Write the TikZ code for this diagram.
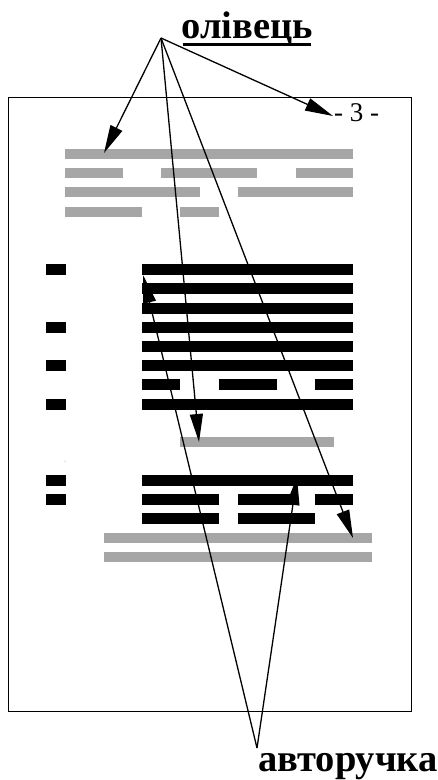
\documentclass[tikz,border=0pt]{standalone}
\usepackage{fontspec}
\setmainfont{Liberation Serif}
\usetikzlibrary{arrows.meta}
\tikzset{
  gbar/.style={fill={rgb,255:red,166;green,166;blue,166}, draw=none},
  bbar/.style={fill=black, draw=none},
  ptr/.style={line width=1.3pt, -{Triangle[length=28pt,width=13pt]}},
  lbl/.style={font=\bfseries\fontsize{38.5}{42}\selectfont, inner sep=0pt},
}
\begin{document}
\begin{tikzpicture}[x=1pt,y=-1pt]
\useasboundingbox (0,0) rectangle (437,780);
% page
\draw[line width=0.9pt] (8,97) rectangle (411,711);
% gray text lines
\foreach \a/\b/\y in {65/353/149, 65/123/168, 161/257/168, 296/353/168,
  65/200/187, 238/353/187, 65/142/207, 180/219/207,
  180/334/437, 104/372/533, 104/372/552}
  {\fill[gbar] (\a,\y) rectangle (\b,\y+10);}
% black lines
\foreach \a/\b/\y in {142/353/264, 142/353/283, 142/353/303, 142/353/322,
  142/353/341, 142/353/360, 142/180/379, 219/277/379, 315/353/379, 142/353/399,
  142/353/475, 142/219/494, 238/296/494, 315/353/494, 142/219/513, 238/315/513,
  46/66/264, 46/66/322, 46/66/360, 46/66/399, 46/66/475, 46/66/494}
  {\fill[bbar] (\a,\y) rectangle (\b,\y+10.5);}
\fill[gray] (65,461) circle (0.5);
% labels
\node[lbl, anchor=base] (pencil) at (247,38) {олівець};
\draw[line width=2.6pt] (183,44.5) -- (311,44.5);
\node[inner sep=0pt, anchor=base west, font=\fontsize{27}{30}\selectfont] (page) at (334,121) {- 3 -};
\node[lbl, anchor=base] (pen) at (348,771) {авторучка};
% apexes and targets
\coordinate (pa) at (161,38);
\coordinate (qa) at (257,748);
\coordinate (t1) at (104,153);
\coordinate (t2) at (333,116);
\coordinate (t3) at (199,442);
\coordinate (t4) at (353,538);
\coordinate (u1) at (143,275);
\coordinate (u2) at (297,477);
\draw[ptr] (pa) -- (t1);
\draw[ptr] (pa) -- (t2);
\draw[ptr] (pa) -- (t3);
\draw[ptr] (pa) -- (t4);
\draw[ptr] (qa) -- (u1);
\draw[ptr] (qa) -- (u2);
\end{tikzpicture}
\end{document}
